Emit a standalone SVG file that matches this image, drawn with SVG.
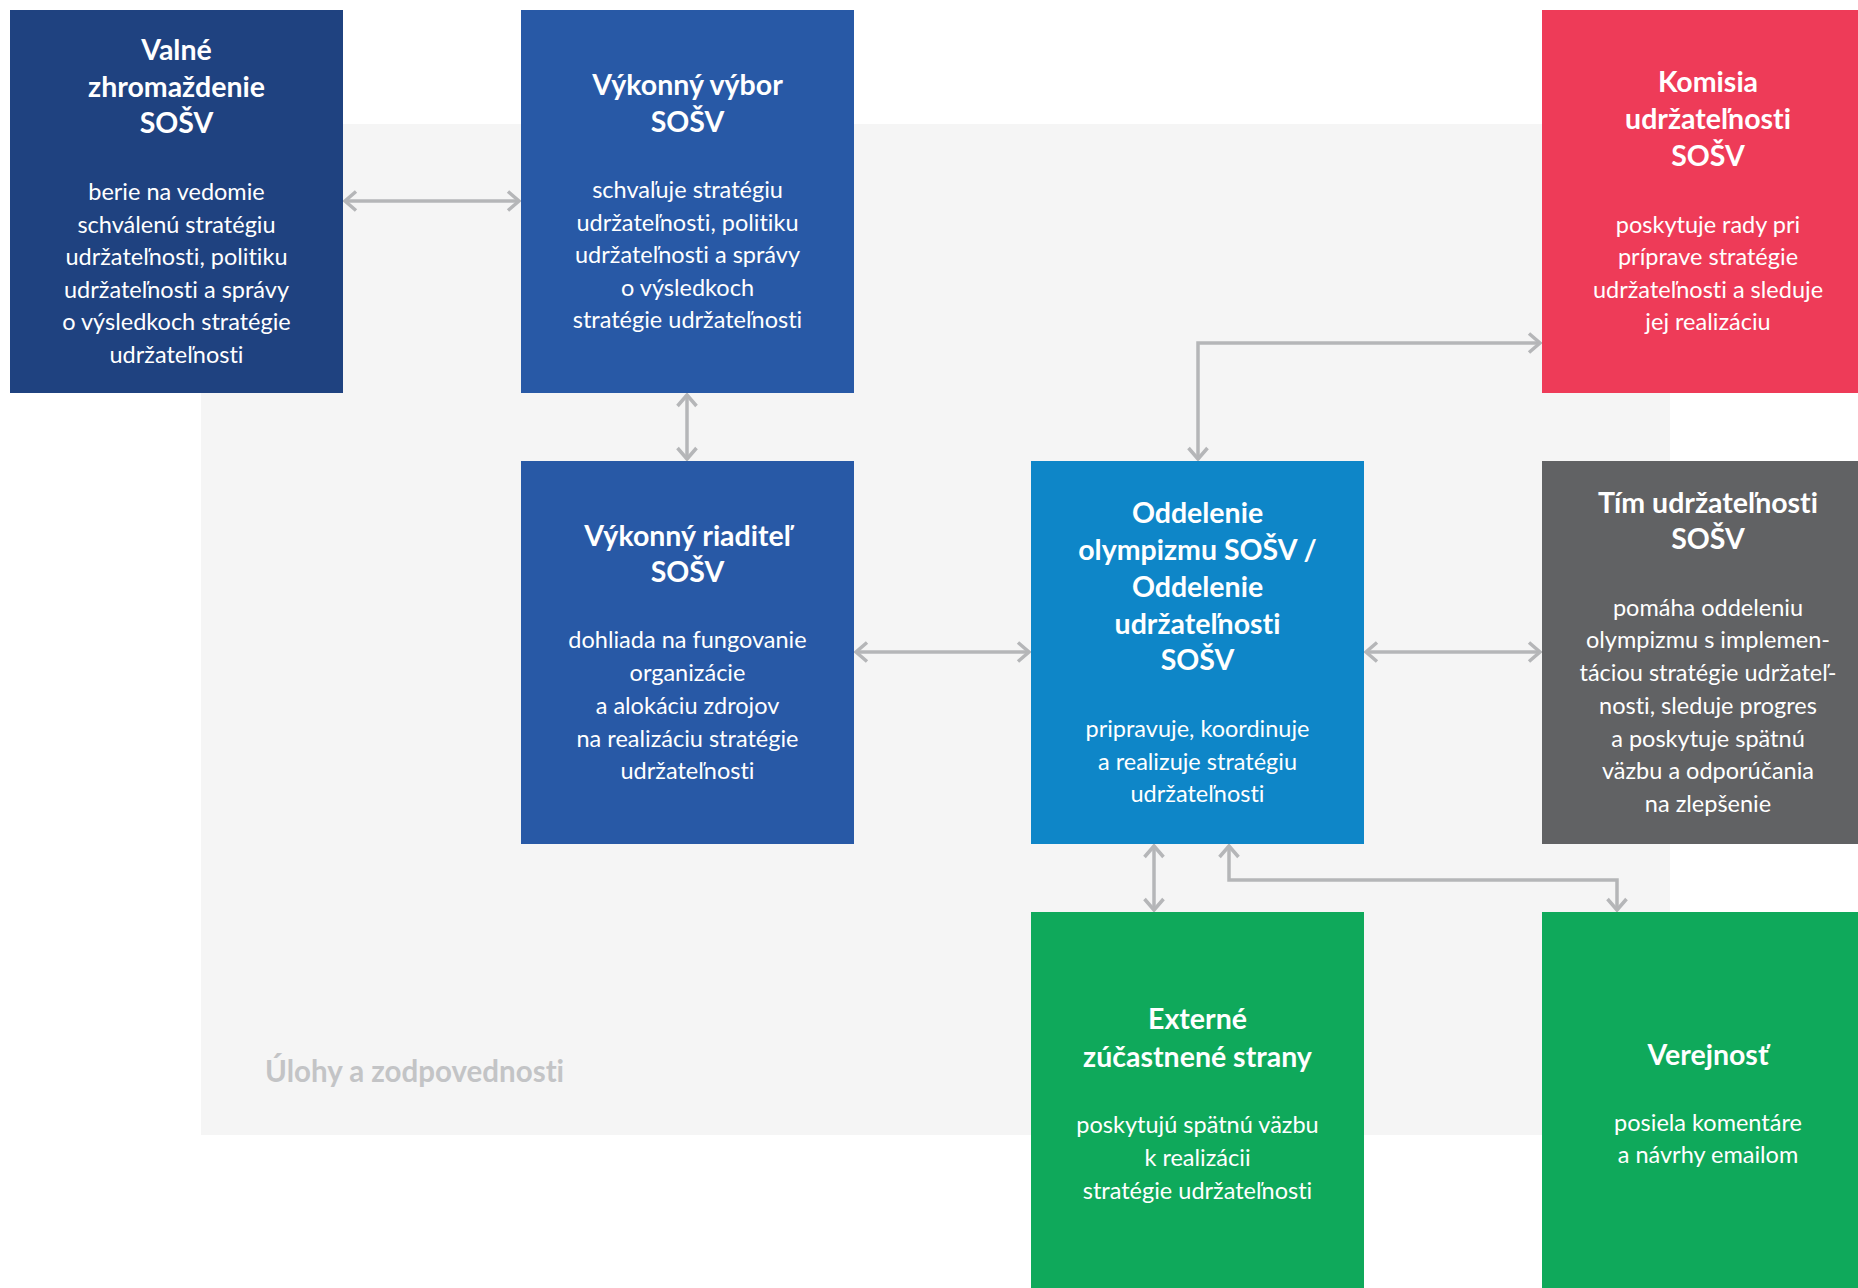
<svg xmlns="http://www.w3.org/2000/svg" width="1858" height="1288" viewBox="0 0 1858 1288">
<style>
text{font-variant-ligatures:none}
.t{font-family:Lato,"Open Sans",sans-serif;font-weight:700;font-size:28.5px;fill:#fff;text-anchor:middle}
.b{font-family:Lato,"Open Sans",sans-serif;font-weight:400;font-size:23.5px;fill:#fff;text-anchor:middle}
.c{fill:none;stroke:#b5b6b8;stroke-width:3.5}
.lbl{font-family:Lato,"Open Sans",sans-serif;font-weight:700;font-size:29.5px;fill:#c3c4c6}
</style>
<defs>
<marker id="ah" markerUnits="userSpaceOnUse" viewBox="-16 -13 20 26" refX="0" refY="0" markerWidth="20" markerHeight="26" orient="auto-start-reverse">
<path d="M-11,-9.5 L0,0 L-11,9.5" fill="none" stroke="#b5b6b8" stroke-width="3.5" stroke-linejoin="miter"/>
</marker>
</defs>
<rect width="1858" height="1288" fill="#fff"/>
<rect id="background" x="201" y="124" width="1469" height="1011" fill="#f5f5f5"/>
<text class="lbl" x="265" y="1082">Úlohy a zodpovednosti</text>

<g id="connectors">
<path class="c" d="M345,201 H519" marker-start="url(#ah)" marker-end="url(#ah)"/>
<path class="c" d="M687,395 V459" marker-start="url(#ah)" marker-end="url(#ah)"/>
<path class="c" d="M856,652 H1029" marker-start="url(#ah)" marker-end="url(#ah)"/>
<path class="c" d="M1366,652 H1540" marker-start="url(#ah)" marker-end="url(#ah)"/>
<path class="c" d="M1198,459 V343 H1540" marker-start="url(#ah)" marker-end="url(#ah)"/>
<path class="c" d="M1154,846 V910" marker-start="url(#ah)" marker-end="url(#ah)"/>
<path class="c" d="M1229,846 V880 H1617 V910" marker-start="url(#ah)" marker-end="url(#ah)"/>
</g>

<g id="valne">
<rect x="10" y="10" width="333" height="383" fill="#1f4280"/>
<text class="t" x="176.5" y="60">Valné</text>
<text class="t" x="176.5" y="97">zhromaždenie</text>
<text class="t" x="176.5" y="133">SOŠV</text>
<text class="b" x="176.5" y="200">berie na vedomie</text>
<text class="b" x="176.5" y="233">schválenú stratégiu</text>
<text class="b" x="176.5" y="265">udržateľnosti, politiku</text>
<text class="b" x="176.5" y="298">udržateľnosti a správy</text>
<text class="b" x="176.5" y="330">o výsledkoch stratégie</text>
<text class="b" x="176.5" y="363">udržateľnosti</text>
</g>

<g id="vykonny-vybor">
<rect x="521" y="10" width="333" height="383" fill="#2859a6"/>
<text class="t" x="687.5" y="95">Výkonný výbor</text>
<text class="t" x="687.5" y="132">SOŠV</text>
<text class="b" x="687.5" y="198">schvaľuje stratégiu</text>
<text class="b" x="687.5" y="231">udržateľnosti, politiku</text>
<text class="b" x="687.5" y="263">udržateľnosti a správy</text>
<text class="b" x="687.5" y="296">o výsledkoch</text>
<text class="b" x="687.5" y="328">stratégie udržateľnosti</text>
</g>

<g id="komisia">
<rect x="1542" y="10" width="333" height="383" fill="#ee3b58"/>
<text class="t" x="1708" y="92">Komisia</text>
<text class="t" x="1708" y="129">udržateľnosti</text>
<text class="t" x="1708" y="166">SOŠV</text>
<text class="b" x="1708" y="233">poskytuje rady pri</text>
<text class="b" x="1708" y="265">príprave stratégie</text>
<text class="b" x="1708" y="298">udržateľnosti a sleduje</text>
<text class="b" x="1708" y="330">jej realizáciu</text>
</g>

<g id="riaditel">
<rect x="521" y="461" width="333" height="383" fill="#2859a6"/>
<text class="t" x="687.5" y="546">Výkonný riaditeľ</text>
<text class="t" x="687.5" y="582">SOŠV</text>
<text class="b" x="687.5" y="648">dohliada na fungovanie</text>
<text class="b" x="687.5" y="681">organizácie</text>
<text class="b" x="687.5" y="714">a alokáciu zdrojov</text>
<text class="b" x="687.5" y="747">na realizáciu stratégie</text>
<text class="b" x="687.5" y="779">udržateľnosti</text>
</g>

<g id="oddelenie">
<rect x="1031" y="461" width="333" height="383" fill="#0e86c8"/>
<text class="t" x="1197.5" y="523">Oddelenie</text>
<text class="t" x="1197.5" y="560">olympizmu SOŠV /</text>
<text class="t" x="1197.5" y="597">Oddelenie</text>
<text class="t" x="1197.5" y="634">udržateľnosti</text>
<text class="t" x="1197.5" y="670">SOŠV</text>
<text class="b" x="1197.5" y="737">pripravuje, koordinuje</text>
<text class="b" x="1197.5" y="770">a realizuje stratégiu</text>
<text class="b" x="1197.5" y="802">udržateľnosti</text>
</g>

<g id="tim">
<rect x="1542" y="461" width="333" height="383" fill="#616264"/>
<text class="t" x="1708" y="513">Tím udržateľnosti</text>
<text class="t" x="1708" y="549">SOŠV</text>
<text class="b" x="1708" y="616">pomáha oddeleniu</text>
<text class="b" x="1708" y="648">olympizmu s implemen-</text>
<text class="b" x="1708" y="681">táciou stratégie udržateľ-</text>
<text class="b" x="1708" y="714">nosti, sleduje progres</text>
<text class="b" x="1708" y="747">a poskytuje spätnú</text>
<text class="b" x="1708" y="779">väzbu a odporúčania</text>
<text class="b" x="1708" y="812">na zlepšenie</text>
</g>

<g id="externe">
<rect x="1031" y="912" width="333" height="383" fill="#0fa95b"/>
<text class="t" x="1197.5" y="1029">Externé</text>
<text class="t" x="1197.5" y="1067">zúčastnené strany</text>
<text class="b" x="1197.5" y="1133">poskytujú spätnú väzbu</text>
<text class="b" x="1197.5" y="1166">k realizácii</text>
<text class="b" x="1197.5" y="1199">stratégie udržateľnosti</text>
</g>

<g id="verejnost">
<rect x="1542" y="912" width="333" height="383" fill="#0fa95b"/>
<text class="t" x="1708" y="1065">Verejnosť</text>
<text class="b" x="1708" y="1131">posiela komentáre</text>
<text class="b" x="1708" y="1163">a návrhy emailom</text>
</g>
</svg>
